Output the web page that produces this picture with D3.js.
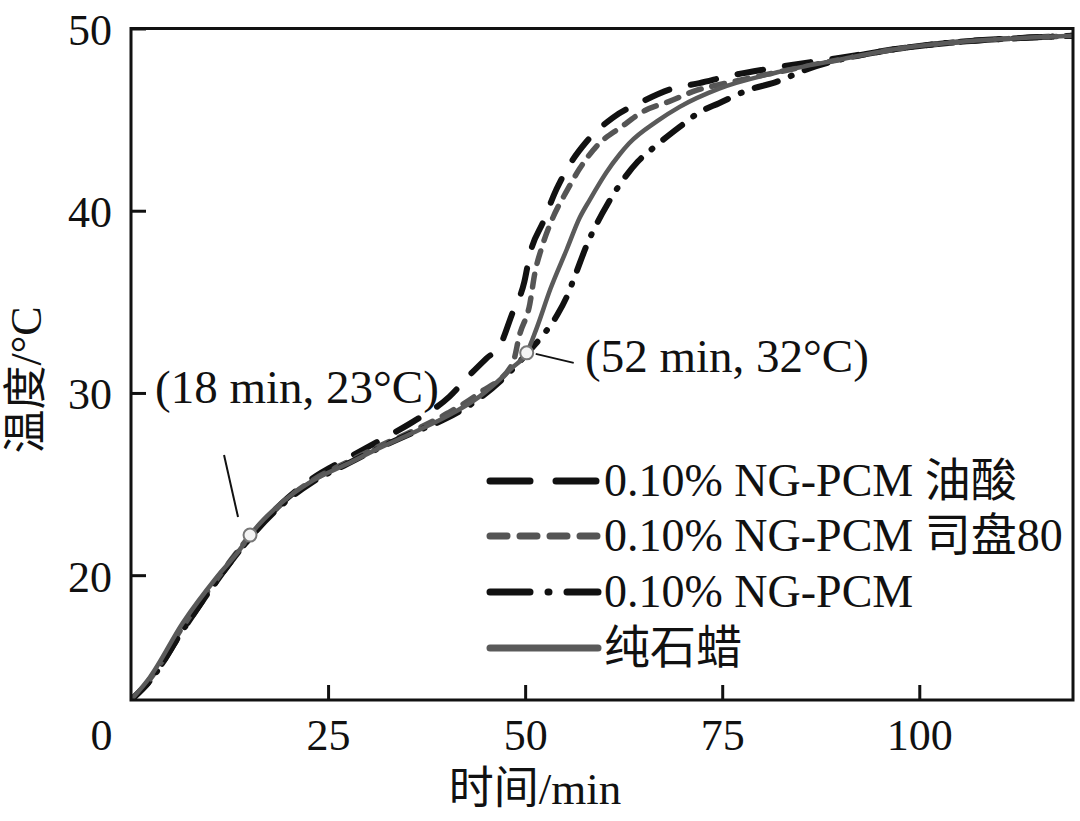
<!DOCTYPE html>
<html>
<head>
<meta charset="utf-8">
<script src="https://cdn.jsdelivr.net/npm/d3@7"></script>
<style>
  html, body { margin: 0; padding: 0; background: #fff; }
  svg { display: block; }
  text { font-family: "Liberation Serif", "Noto Sans CJK SC", serif; fill: #111; }
</style>
</head>
<body>
<svg id="chart" width="1080" height="821"></svg>
<script>
// ---------- data ----------
const xTickValues = [0, 25, 50, 75, 100];
const yTickValues = [20, 30, 40, 50];
const xTitle = "时间/min";
const yTitle = "温度/°C";

const seriesNames = [
  "0.10% NG-PCM 油酸",
  "0.10% NG-PCM 司盘80",
  "0.10% NG-PCM",
  "纯石蜡"
];

// time (min), temperature (°C)
const oleicAcid = [
  [0,13.15],[2.4,14.2],[6.6,17.0],[10.9,19.7],[15,22.0],[19,23.9],[23,25.3],
  [27.4,26.4],[31.6,27.4],[35.7,28.4],[40.4,29.8],[43,31.0],[45.1,31.9],
  [46.8,32.6],[48.4,34.4],[49.9,36.1],[50.6,37.6],[52.3,39.4],[54,41.2],
  [55.6,42.5],[57.8,43.8],[61.1,45.1],[64.9,46.0],[68.7,46.7],[72.1,47.0],
  [75.9,47.4],[81,47.8],[90,48.4],[97.5,48.9],[106,49.3],[114,49.5],[119.5,49.6]
];
const span80 = [
  [0,13.15],[2.4,14.3],[6.6,17.2],[10.9,19.8],[15,22.1],[19,23.9],[23,25.2],
  [27.4,26.2],[31.6,27.1],[35.7,27.9],[40.2,28.9],[44.2,30.0],[48.4,31.6],
  [49.3,33.2],[50.6,34.9],[51.2,36.5],[52.2,38.1],[53.5,39.6],[55.3,41.1],
  [56.9,42.3],[59.2,43.6],[62.2,44.6],[65.2,45.5],[68.3,46.0],[71.7,46.6],
  [75.5,47.0],[82,47.6],[90,48.3],[97.5,48.9],[106,49.3],[114,49.5],[119.5,49.6]
];
const ngPcm = [
  [0,13.15],[2.4,14.2],[6.6,17.0],[10.9,19.7],[15,22.0],[19,23.8],[23,25.1],
  [27.4,26.1],[31.6,27.0],[35.7,27.8],[40.0,28.6],[44.2,29.7],[48.4,31.3],
  [50.5,32.3],[52.5,33.3],[54.1,34.3],[55.3,35.3],[56.3,36.4],[57.9,38.2],
  [59.1,39.3],[60.5,40.4],[62.6,41.8],[64.3,42.7],[66.4,43.5],[69.6,44.6],
  [72.1,45.4],[74.6,45.9],[78.8,46.7],[81.4,47.0],[86,47.8],[90,48.3],
  [97.5,48.9],[106,49.3],[114,49.5],[119.5,49.6]
];
const paraffin = [
  [0,13.15],[2.4,14.4],[6.6,17.4],[10.9,19.9],[13.8,21.4],[15.1,22.2],[18.9,23.9],
  [23.1,25.2],[27.4,26.1],[31.6,27.0],[35.7,27.8],[40.0,28.7],[44.2,29.8],
  [48.4,31.4],[50.2,32.2],[51.5,33.6],[53.2,35.7],[55.3,37.9],[56.9,39.6],
  [58.2,40.6],[60.3,42.1],[62.0,43.1],[63.2,43.7],[66.7,44.9],[69.6,45.7],
  [74.6,46.7],[82,47.6],[90,48.3],[97.5,48.9],[106,49.3],[114,49.5],[119.5,49.6]
];

// annotated points
const annotations = [
  { label: "(18 min, 23°C)", point: [15.1, 22.2] },
  { label: "(52 min, 32°C)", point: [50.2, 32.2] }
];

// ---------- drawing ----------
const svg = d3.select("#chart");
const plotLeft = 131, plotRight = 1073, plotTop = 28.5, plotBottom = 700;

const x = d3.scaleLinear().domain([0, 119.5]).range([plotLeft, plotRight]);
const y = d3.scaleLinear().domain([13.15, 50]).range([plotBottom, plotTop]);

const styles = [
  { color: "#111", width: 6, dash: "26,22", legendDash: "40,26" },
  { color: "#555", width: 5.5, dash: "13,11", legendDash: "17,13" },
  { color: "#111", width: 6, dash: "24,14,1,14", legendDash: "40,18,1,18" },
  { color: "#5a5a5a", width: 4.5, dash: null, legendDash: null }
];
const allSeries = [oleicAcid, span80, ngPcm, paraffin];

const line = d3.line()
  .x(d => x(d[0]))
  .y(d => y(d[1]))
  .curve(d3.curveMonotoneX);

svg.append("defs").append("clipPath").attr("id", "plotclip")
  .append("rect").attr("x", plotLeft).attr("y", plotTop)
  .attr("width", plotRight - plotLeft).attr("height", plotBottom - plotTop);

const plot = svg.append("g").attr("clip-path", "url(#plotclip)");
allSeries.forEach((s, i) => {
  const st = styles[i];
  plot.append("path")
    .datum(s)
    .attr("d", line)
    .attr("fill", "none")
    .attr("stroke", st.color)
    .attr("stroke-width", st.width)
    .attr("stroke-linecap", "round")
    .attr("stroke-linejoin", "round")
    .attr("stroke-dasharray", st.dash);
});

// frame
svg.append("rect")
  .attr("x", plotLeft).attr("y", plotTop)
  .attr("width", plotRight - plotLeft).attr("height", plotBottom - plotTop)
  .attr("fill", "none").attr("stroke", "#111").attr("stroke-width", 3);

// axes (ticks pointing inward)
const xAxis = d3.axisBottom(x).tickValues(xTickValues).tickSizeInner(-15).tickSizeOuter(0).tickPadding(0);
const gx = svg.append("g").attr("transform", `translate(0,${plotBottom})`).call(xAxis);
gx.select(".domain").remove();
gx.selectAll(".tick line").attr("stroke", "#111").attr("stroke-width", 3);
gx.selectAll(".tick text")
  .attr("dy", null).attr("y", 50)
  .attr("font-size", 44)
  .attr("font-family", "Liberation Serif")
  .attr("fill", "#111");
gx.selectAll(".tick").filter(d => d === 0).each(function () {
  d3.select(this).select("line").remove();
  d3.select(this).select("text").attr("x", -30);
});

const yAxis = d3.axisLeft(y).tickValues(yTickValues).tickSizeInner(-15).tickSizeOuter(0).tickPadding(19);
const gy = svg.append("g").attr("transform", `translate(${plotLeft},0)`).call(yAxis);
gy.select(".domain").remove();
gy.selectAll(".tick line").attr("stroke", "#111").attr("stroke-width", 3);
gy.selectAll(".tick text")
  .attr("font-size", 44)
  .attr("dy", "0.36em")
  .attr("font-family", "Liberation Serif")
  .attr("fill", "#111");

// axis titles
svg.append("text")
  .attr("x", 535).attr("y", 804)
  .attr("text-anchor", "middle")
  .attr("font-size", 45)
  .text(xTitle);
svg.append("text")
  .attr("transform", "translate(41,380) rotate(-90)")
  .attr("text-anchor", "middle")
  .attr("font-size", 44)
  .text(yTitle);

// legend
const legendRowsY = [481, 536, 592, 648];
const legend = svg.append("g");
seriesNames.forEach((name, i) => {
  const st = styles[i];
  const ly = legendRowsY[i];
  legend.append("line")
    .attr("x1", 490).attr("x2", 598)
    .attr("y1", ly).attr("y2", ly)
    .attr("stroke", st.color)
    .attr("stroke-width", 7)
    .attr("stroke-linecap", "round")
    .attr("stroke-dasharray", st.legendDash);
  legend.append("text")
    .attr("x", 604).attr("y", ly + 15)
    .attr("font-size", 46)
    .text(name);
});

// annotations
const ann = svg.append("g");
const p0 = annotations[0].point, p1 = annotations[1].point;
ann.append("line")
  .attr("x1", x(p0[0]) - 26).attr("y1", y(p0[1]) - 80)
  .attr("x2", x(p0[0]) - 12).attr("y2", y(p0[1]) - 18)
  .attr("stroke", "#111").attr("stroke-width", 2);
ann.append("line")
  .attr("x1", x(p1[0]) + 9).attr("y1", y(p1[1]) + 1)
  .attr("x2", x(p1[0]) + 47).attr("y2", y(p1[1]) + 10)
  .attr("stroke", "#111").attr("stroke-width", 2);
annotations.forEach(a => {
  ann.append("circle")
    .attr("cx", x(a.point[0])).attr("cy", y(a.point[1]))
    .attr("r", 6.5)
    .attr("fill", "#f4f4f4")
    .attr("stroke", "#777")
    .attr("stroke-width", 2);
});
ann.append("text")
  .attr("x", 155).attr("y", 403)
  .attr("font-size", 47)
  .text(annotations[0].label);
ann.append("text")
  .attr("x", 585).attr("y", 372)
  .attr("font-size", 47)
  .text(annotations[1].label);
</script>
</body>
</html>
